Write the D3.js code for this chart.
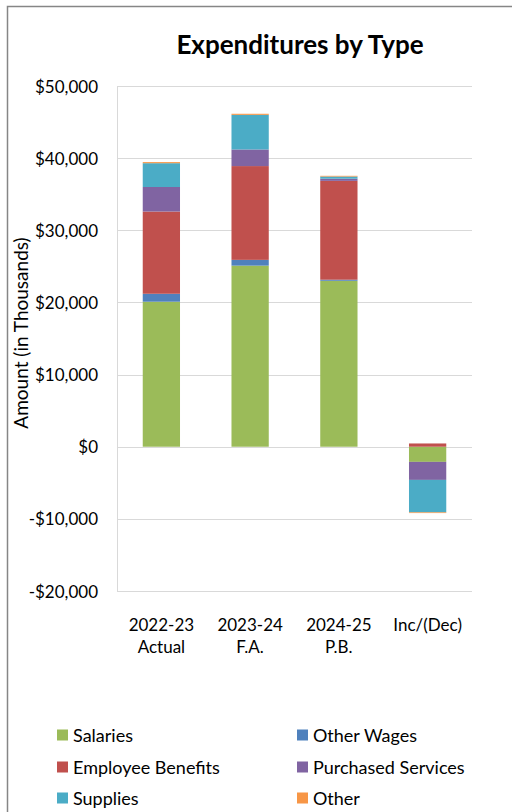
<!DOCTYPE html>
<html lang="en">
<head>
    <meta charset="UTF-8">
    <title>Expenditures by Type</title>
    <script src="https://cdn.jsdelivr.net/npm/d3@7/dist/d3.min.js" charset="utf-8"></script>
    <style>
        body {
            margin: 0;
            padding: 0;
            background: #fff;
        }
        text {
            font-family: Lato, "Open Sans", sans-serif;
            fill: #000;
        }
        .grid line {
            stroke: #d9d9d9;
            stroke-width: 1;
        }
    </style>
</head>
<body>
<svg width="512" height="812"></svg>
<script>
    // categories and their two-line labels
    var categories = ['2022-23', '2023-24', '2024-25', 'Inc/(Dec)'];
    var catSubLabels = ['Actual', 'F.A.', 'P.B.', ''];

    // series values (in thousands)
    var seriesNames = ['Salaries', 'Other Wages', 'Employee Benefits', 'Purchased Services', 'Supplies', 'Other'];
    var salaries = [20100, 25100, 23000, -2100];
    var otherWages = [1100, 800, 150, 0];
    var employeeBenefits = [11400, 13000, 13700, 450];
    var purchasedServices = [3400, 2300, 300, -2500];
    var supplies = [3300, 4800, 300, -4500];
    var other = [150, 150, 100, -100];

    var yTicks = [-20000, -10000, 0, 10000, 20000, 30000, 40000, 50000];

    var colors = ['#9bbb59', '#4f81bd', '#c0504d', '#8064a2', '#4bacc6', '#f79646'];

    var allSeries = [salaries, otherWages, employeeBenefits, purchasedServices, supplies, other];
    var rows = categories.map(function(c, i) {
        var r = {cat: c};
        seriesNames.forEach(function(s, j) { r[s] = allSeries[j][i]; });
        return r;
    });

    var svg = d3.select('svg');

    // chart frame
    svg.append('rect')
        .attr('x', 7.5).attr('y', 6.5)
        .attr('width', 700).attr('height', 900)
        .attr('fill', 'none')
        .attr('stroke', '#868686')
        .attr('stroke-width', 1.5);

    var plotL = 117, plotR = 472, plotT = 86, plotB = 591;

    var x = d3.scaleBand()
        .domain(categories)
        .range([plotL, plotR])
        .paddingInner(0.58)
        .paddingOuter(0.29);

    var y = d3.scaleLinear()
        .domain([-20000, 50000])
        .range([plotB, plotT]);

    // gridlines
    svg.append('g').attr('class', 'grid')
        .selectAll('line').data(yTicks).enter().append('line')
        .attr('x1', plotL).attr('x2', plotR)
        .attr('y1', function(d) { return Math.round(y(d)) + 0.5; })
        .attr('y2', function(d) { return Math.round(y(d)) + 0.5; });

    svg.append('line')
        .attr('x1', plotL + 0.5).attr('x2', plotL + 0.5)
        .attr('y1', plotT).attr('y2', plotB)
        .attr('stroke', '#d9d9d9');

    // y tick labels
    var fmt = d3.format(',');
    svg.append('g').selectAll('text').data(yTicks).enter().append('text')
        .attr('x', 98)
        .attr('y', function(d) { return y(d) + 6.5; })
        .attr('text-anchor', 'end')
        .style('font-size', '17px')
        .text(function(d) { return (d < 0 ? '-$' : '$') + fmt(Math.abs(d)); });

    // stacked bars
    var stack = d3.stack().keys(seriesNames).offset(d3.stackOffsetDiverging);
    var layers = stack(rows);

    svg.append('g').selectAll('g').data(layers).enter().append('g')
        .attr('fill', function(d, i) { return colors[i]; })
        .selectAll('rect').data(function(d) { return d; }).enter().append('rect')
        .attr('x', function(d) { return x(d.data.cat); })
        .attr('width', x.bandwidth())
        .attr('y', function(d) { return y(Math.max(d[0], d[1])); })
        .attr('height', function(d) { return Math.abs(y(d[0]) - y(d[1])); });

    // x labels
    var xl = svg.append('g').selectAll('text').data(categories).enter().append('text')
        .attr('text-anchor', 'middle')
        .style('font-size', '17px')
        .attr('x', function(d) { return x(d) + x.bandwidth() / 2; })
        .attr('y', 631);
    xl.append('tspan').text(function(d) { return d; });
    xl.append('tspan')
        .attr('x', function(d) { return x(d) + x.bandwidth() / 2; })
        .attr('dy', 22)
        .text(function(d, i) { return catSubLabels[i]; });

    // y axis title
    svg.append('text')
        .attr('transform', 'translate(28,333) rotate(-90)')
        .attr('text-anchor', 'middle')
        .style('font-size', '19px')
        .text('Amount (in Thousands)');

    // title
    svg.append('text')
        .attr('x', 300).attr('y', 54)
        .attr('text-anchor', 'middle')
        .style('font-size', '26px')
        .style('font-weight', 'bold')
        .text('Expenditures by Type');

    // legend
    var legendPos = [[57, 735], [297, 735], [57, 767], [297, 767], [57, 798], [297, 798]];
    var lg = svg.append('g').selectAll('g').data(seriesNames).enter().append('g')
        .attr('transform', function(d, i) { return 'translate(' + legendPos[i][0] + ',' + legendPos[i][1] + ')'; });
    lg.append('rect')
        .attr('x', 0).attr('y', -5.5)
        .attr('width', 11).attr('height', 11)
        .attr('fill', function(d, i) { return colors[i]; });
    lg.append('text')
        .attr('x', 16).attr('y', 6.5)
        .style('font-size', '18px')
        .text(function(d) { return d; });
</script>
</body>
</html>
